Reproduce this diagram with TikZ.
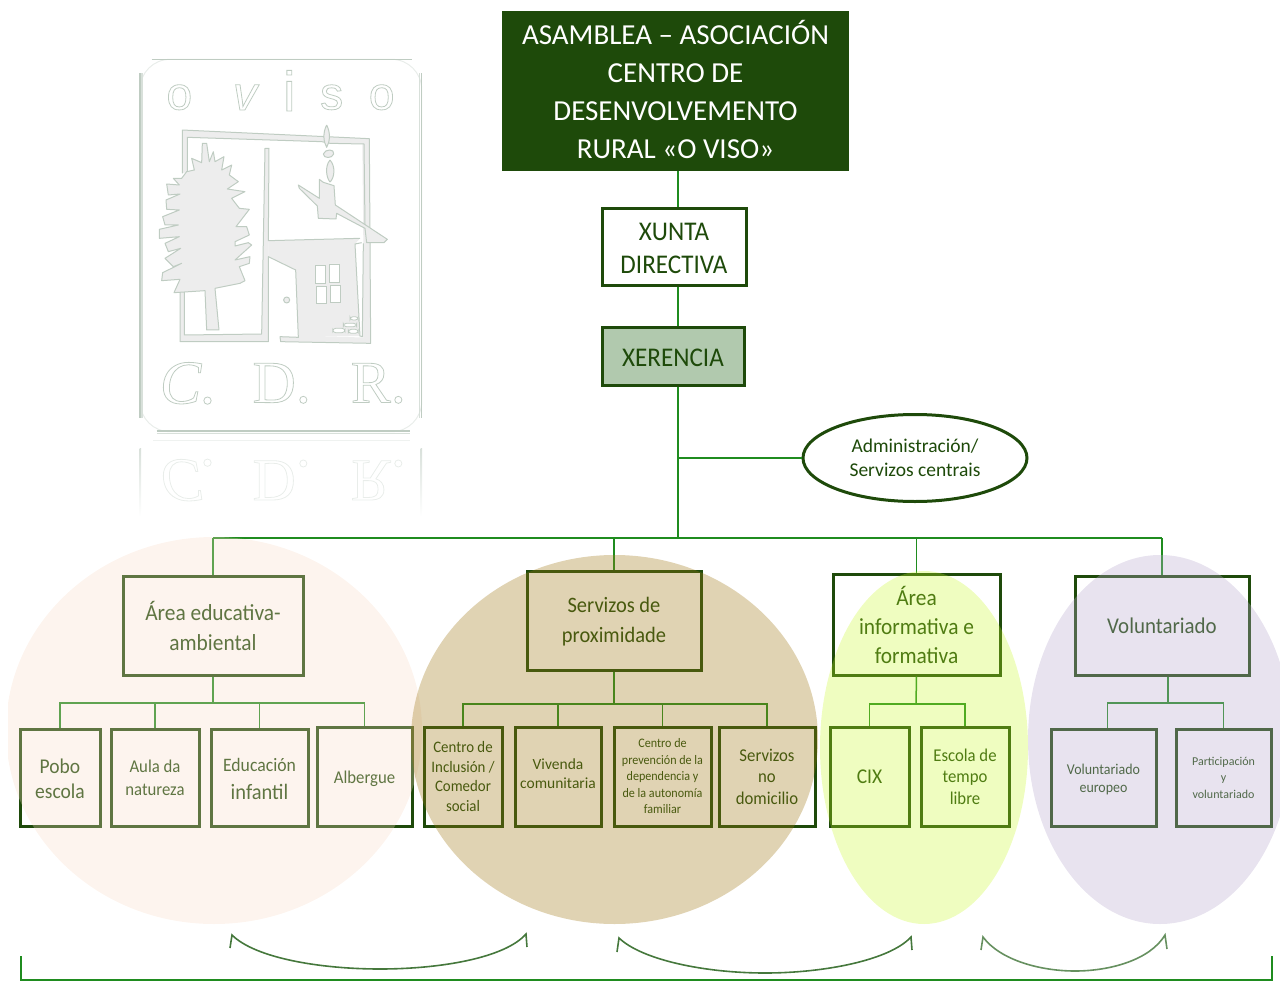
\documentclass[tikz,border=0pt]{standalone}
\usepackage{fontspec}
\setmainfont{Carlito}
\newfontfamily\cnd[FakeStretch=0.93]{Carlito}
\newfontfamily\logofont{Liberation Serif}
\newfontfamily\logosans{Liberation Sans}
\usetikzlibrary{calc,shapes.geometric}
\definecolor{dkgreen}{HTML}{1E4A0A}
\definecolor{midgreen}{HTML}{24601A}
\definecolor{linegreen}{HTML}{1F8C1F}
\definecolor{xerfill}{HTML}{B1C9AE}
\definecolor{logoline}{HTML}{BFCCC2}
\definecolor{logofill}{HTML}{EDEDED}
\definecolor{pinkc}{HTML}{F8DAC6}
\definecolor{tanc}{HTML}{A07918}
\definecolor{limec}{HTML}{C8F826}
\definecolor{lilacc}{HTML}{B9A9CE}
\newcommand{\fs}[2]{\fontsize{#1}{#2}\selectfont}
\newcommand{\outl}[1]{\special{pdf:code 1 Tr 0.8 w}#1\special{pdf:code 0 Tr}}
\newcommand{\lift}[2]{\raisebox{#1}[\height][\depth]{#2}}
\tikzset{
  box/.style={draw=dkgreen,line width=3pt,inner sep=0pt,align=center,text=dkgreen},
  link/.style={draw=linegreen,line width=1.5pt},
  blob/.style={ellipse,inner sep=0pt,draw=none},
  arcline/.style={draw=midgreen!85!white,line width=1.6pt,line join=miter},
  lf/.style={draw=logoline,line width=1pt,fill=logofill,line join=round},
  lo/.style={draw=logoline,line width=1pt,line join=round},
  lt/.style={text=logoline,inner sep=0pt}
}
\begin{document}
\begin{tikzpicture}[x=1pt,y=-1pt]
\useasboundingbox (0,0) rectangle (1280,985);
% ---------- logo ----------
\begin{scope}[shift={(130,50)},scale=1/3]
  \draw[logoline!35,line width=1pt,rounded corners=30pt] (30,28) rectangle (875,1145);
  \draw[logoline,line width=1.6pt] (30,70)--(30,1105) (875,70)--(875,1105);
  \draw[logoline!60,line width=1.2pt] (36,70)--(36,1105) (869,70)--(869,1105);
  \draw[logoline,line width=1.6pt] (65,28)--(845,28) (80,1143)--(840,1143);
  \draw[logoline!60,line width=1.6pt] (80,1150)--(840,1150);
  \node[lt,font=\logosans\fs{46}{46}] at (148,142) {\outl{o}};
  \node[lt,font=\logosans\itshape\fs{48}{48}] at (345,142) {\outl{v}};
  \node[lt,font=\logosans\fs{56}{56}] at (478,122) {\outl{i}};
  \node[lt,font=\logosans\fs{46}{46}] at (605,142) {\outl{s}};
  \node[lt,font=\logosans\fs{46}{46}] at (755,142) {\outl{o}};
  \node[lt,font=\logofont\itshape\fs{62}{62}] at (175,1000) {\outl{C.}};
  \node[lt,font=\logofont\fs{60}{60}] at (455,1000) {\outl{D.}};
  \node[lt,font=\logofont\fs{60}{60}] at (745,1000) {\outl{R.}};
  \begin{scope}[opacity=.35]
    \node[lt,yscale=-1,font=\logofont\itshape\fs{62}{62}] at (175,1290) {\outl{C.}};
    \node[lt,yscale=-1,font=\logofont\fs{60}{60}] at (455,1290) {\outl{D.}};
    \node[lt,yscale=-1,font=\logofont\fs{60}{60}] at (745,1290) {\outl{R.}};
  \end{scope}
  \shade[top color=logoline!60,bottom color=white] (29,1195) rectangle (33,1400);
  \shade[top color=logoline!60,bottom color=white] (872,1195) rectangle (876,1400);
  \draw[logoline!25,line width=1.2pt] (70,1172)--(840,1172);
  % frame and house body
  \fill[logofill] (157,240)--(718,266)--(702,282)--(600,280)--(575,275)--(172,262)--(172,365)--(157,370)--cycle;
  \fill[logofill] (697,282)--(718,266)--(722,880)--(697,860)--(700,580)--cycle;
  \fill[logofill] (722,880)--(452,875)--(450,860)--(705,862)--cycle;
  \fill[logofill] (150,725)--(163,725)--(163,855)--(395,852)--(405,295)--(417,295)--(415,875)--(150,875)--cycle;
  \fill[logofill] (415,572)--(690,565)--(675,582)--(690,858)--(505,862)--(497,660)--(415,620)--cycle;
  \draw[lo] (157,370)--(157,240)--(718,266)--(722,880)--(452,875)--(450,860)--(505,862)--(497,660)--(415,620)--(415,875)--(150,875)--(150,725);
  \draw[lo] (163,725)--(163,855)--(395,852)--(405,295)--(417,295)--(415,572)--(690,565);
  \draw[lo] (172,365)--(172,262)--(575,275)--(600,280)--(702,282)--(705,525);
  \draw[lo] (700,580)--(697,860)--(690,858)--(675,582)--(695,578);
  \draw[lf] (590,225) .. controls (578,248) and (580,275) .. (590,292) .. controls (600,275) and (602,248) .. (590,225);
  % tree
  \begin{scope}[shift={(60,210)}]
  \draw[lf] (207,630)--(195,505)--(270,490)--(285,482)--(268,440)--(298,430)--(300,410)--(255,420)--(305,375)--(295,368)--(255,378)--(255,365)--(298,345)--(290,320)--(258,320)--(298,268)--(268,265)--(245,235)--(285,215)--(232,207)--(265,185)--(238,165)--(245,135)--(215,150)--(222,110)--(195,125)--(190,95)--(178,125)--(170,70)--(157,70)--(155,128)--(125,115)--(133,150)--(110,155)--(95,175)--(70,175)--(88,195)--(50,192)--(55,225)--(90,222)--(48,240)--(50,268)--(88,270)--(38,290)--(45,315)--(85,315)--(28,328)--(28,355)--(88,350)--(45,370)--(55,395)--(92,385)--(45,415)--(70,440)--(95,430)--(38,458)--(35,482)--(90,478)--(72,518)--(165,512)--(170,630)--cycle;
  \end{scope}
  % chimney and roof
  \draw[lf] (505,405)--(568,445)--(568,388)--(580,397)--(612,407)--(616,465)--(772,568)--(762,578)--(710,578)--(705,535)--(620,490)--(618,507)--(565,505)--(562,468)--(508,415)--cycle;
  \draw[lf] (600,330) .. controls (583,350) and (590,385) .. (600,396) .. controls (613,385) and (618,350) .. (600,330);
  \draw[lf] (580,312) .. controls (585,296) and (615,296) .. (611,312) .. controls (607,326) and (580,326) .. (580,312);
  % window, knob, bricks
  \draw[logoline,line width=.8pt,fill=white] (555,647) rectangle (587,700) (598,642) rectangle (628,698) (560,710) rectangle (590,760) (600,707) rectangle (630,758);
  \draw[lo,fill=logofill] (470,750) circle (9);
  \draw[logoline,line width=.8pt,fill=white,rounded corners=3pt] (660,800) rectangle (685,810) (640,820) rectangle (680,830) (608,835) rectangle (645,848) (655,838) rectangle (685,850);
\end{scope}
% ---------- boxes ----------
\node[box,fill=dkgreen,text=white,minimum width=344pt,minimum height=157pt,font=\fs{29}{38}] (asm) at (675.5,91) {\lift{2pt}{ASAMBLEA – ASOCIACIÓN}\\\lift{2pt}{CENTRO DE}\\\lift{2pt}{DESENVOLVEMENTO}\\\lift{2pt}{RURAL «O VISO»}};
\node[box,fill=white,minimum width=144pt,minimum height=77pt,font=\cnd\fs{27}{33}] (xun) at (674,246.5) {\lift{-2pt}{XUNTA}\\\lift{-2pt}{DIRECTIVA}};
\node[box,fill=xerfill,minimum width=142pt,minimum height=58pt,font=\cnd\fs{27}{33}] (xer) at (673,356) {\lift{-2pt}{XERENCIA}};
\node[draw=dkgreen,line width=3pt,ellipse,fill=white,minimum width=224pt,minimum height=87pt,inner sep=0pt,align=center,text=dkgreen,font=\fs{19.5}{24}] (adm) at (915,458) {Administración/\\Servizos centrais};
\node[box,minimum width=180pt,minimum height=99pt,font=\cnd\fs{23}{30}] (a1) at (213,625.5) {Área educativa-\\ambiental};
\node[box,minimum width=174pt,minimum height=99pt,font=\cnd\fs{22}{30}] (a2) at (614,620.5) {\lift{-1pt}{Servizos de}\\\lift{-1pt}{proximidade}};
\node[box,minimum width=167pt,minimum height=101pt,font=\cnd\fs{23}{29}] (a3) at (916.5,624.5) {Área\\informativa e\\formativa};
\node[box,minimum width=174pt,minimum height=99pt,font=\cnd\fs{22.5}{30}] (a4) at (1162,625.5) {Voluntariado};
\node[box,minimum width=80pt,minimum height=97pt,font=\cnd\fs{21}{25}] (s1) at (60,777.5) {\lift{-1pt}{Pobo}\\\lift{-1pt}{escola}};
\node[box,minimum width=88pt,minimum height=97pt,font=\cnd\fs{18}{23}] (s2) at (155,777.5) {Aula da\\natureza};
\node[box,minimum width=97pt,minimum height=97pt,font=\cnd\fs{19}{28}] (s3) at (259.5,777.5) {\lift{-1pt}{Educación}\\\lift{-1pt}{\fs{22}{28}infantil}};
\node[box,minimum width=95pt,minimum height=99pt,font=\cnd\fs{18}{22}] (s4) at (364.5,776.5) {\lift{-2pt}{Albergue}};
\node[box,minimum width=78pt,minimum height=99pt,font=\cnd\fs{16}{19.5}] (s5) at (463,776.5) {Centro de\\Inclusión /\\Comedor\\social};
\node[box,minimum width=86pt,minimum height=99pt,font=\fs{15.5}{19}] (s6) at (558,776.5) {\lift{3pt}{Vivenda}\\\lift{3pt}{comunitaria}};
\node[box,minimum width=97pt,minimum height=99pt,font=\cnd\fs{13}{16.5}] (s7) at (662.5,776.5) {Centro de\\prevención de la\\dependencia y\\de la autonomía\\familiar};
\node[box,minimum width=96pt,minimum height=99pt,font=\cnd\fs{18}{21.5}] (s8) at (767,776.5) {Servizos\\no\\domicilio};
\node[box,minimum width=79pt,minimum height=99pt,font=\cnd\fs{21}{25}] (s9) at (869.5,776.5) {CIX};
\node[box,minimum width=88pt,minimum height=99pt,font=\cnd\fs{18}{21.5}] (s10) at (965,776.5) {Escola de\\tempo\\libre};
\node[box,minimum width=105pt,minimum height=97pt,font=\cnd\fs{15}{18}] (s11) at (1103.5,777.5) {\lift{-2pt}{Voluntariado}\\\lift{-2pt}{europeo}};
\node[box,minimum width=95pt,minimum height=97pt,font=\fs{12}{16.5}] (s12) at (1223.5,777.5) {Participación\\y\\voluntariado};
% ---------- connectors ----------
\coordinate (trunk) at (678,538);
\coordinate (busl) at (213,538);
\coordinate (busr) at (1162,538);
\coordinate (t1) at (213,703);
\coordinate (t2) at (614,704);
\coordinate (t3) at (916,704);
\coordinate (t4) at (1168,703);
\draw[link] (asm.south -| trunk) -- (xun.north -| trunk);
\draw[link] (xun.south -| trunk) -- (xer.north -| trunk);
\draw[link] (xer.south -| trunk) -- (trunk);
\draw[link] (adm.west -| trunk) -- (adm.west);
\draw[link] (busl) -- (busr);
\draw[link] (busl) -- (a1.north);
\draw[link] (a2.north |- trunk) -- (a2.north);
\draw[link] (a3.north |- trunk) -- (a3.north);
\draw[link] (busr) -- (a4.north);
\draw[link] (a1.south) -- (t1);
\draw[link] (a2.south) -- (t2);
\draw[link] (a3.south) -- (t3);
\draw[link] (a4.south -| t4) -- (t4);
\draw[link] (s1.north) |- (t1) -| (s4.north);
\draw[link] (s2.north) -- (s2.north |- t1);
\draw[link] (s3.north) -- (s3.north |- t1);
\draw[link] (s5.north) |- (t2) -| (s8.north);
\draw[link] (s6.north) -- (s6.north |- t2);
\draw[link] (s7.north) -- (s7.north |- t2);
\draw[link] (s9.north) |- (t3) -| (s10.north);
\draw[link] ($(s11.north)+(4,0)$) |- (t4) -| (s12.north);
% ---------- translucent ovals ----------
\begin{scope}
  \clip (8,500) rectangle (1280,985);
  \node[blob,fill=pinkc,fill opacity=.3,minimum width=416pt,minimum height=387pt] (e1) at (214,730.5) {};
\end{scope}
\node[blob,fill=tanc,fill opacity=.33,minimum width=407pt,minimum height=369pt] (e2) at (614.5,739.5) {};
\node[blob,fill=limec,fill opacity=.29,minimum width=208pt,minimum height=353pt] (e3) at (924,747.5) {};
\node[blob,fill=lilacc,fill opacity=.325,minimum width=264pt,minimum height=369pt] (e4) at (1160,739.5) {};
% ---------- brackets ----------
\draw[arcline] (230,948)--(232,935) .. controls (255,958) and (320,969) .. (380,969) .. controls (440,969) and (505,958) .. (526,934)--(527,947);
\draw[arcline] (617,952)--(619,938) .. controls (642,960) and (705,973) .. (765,973) .. controls (825,973) and (890,960) .. (911,937)--(912,950);
\draw[arcline,draw=midgreen!70!white] (981,950)--(983,937) .. controls (1000,960) and (1040,971) .. (1075,971) .. controls (1110,971) and (1150,960) .. (1165,935)--(1167,949);
\draw[link,line width=2pt] (21,956)--(21,980)--(1272,980)--(1272,956);
\end{tikzpicture}
\end{document}
